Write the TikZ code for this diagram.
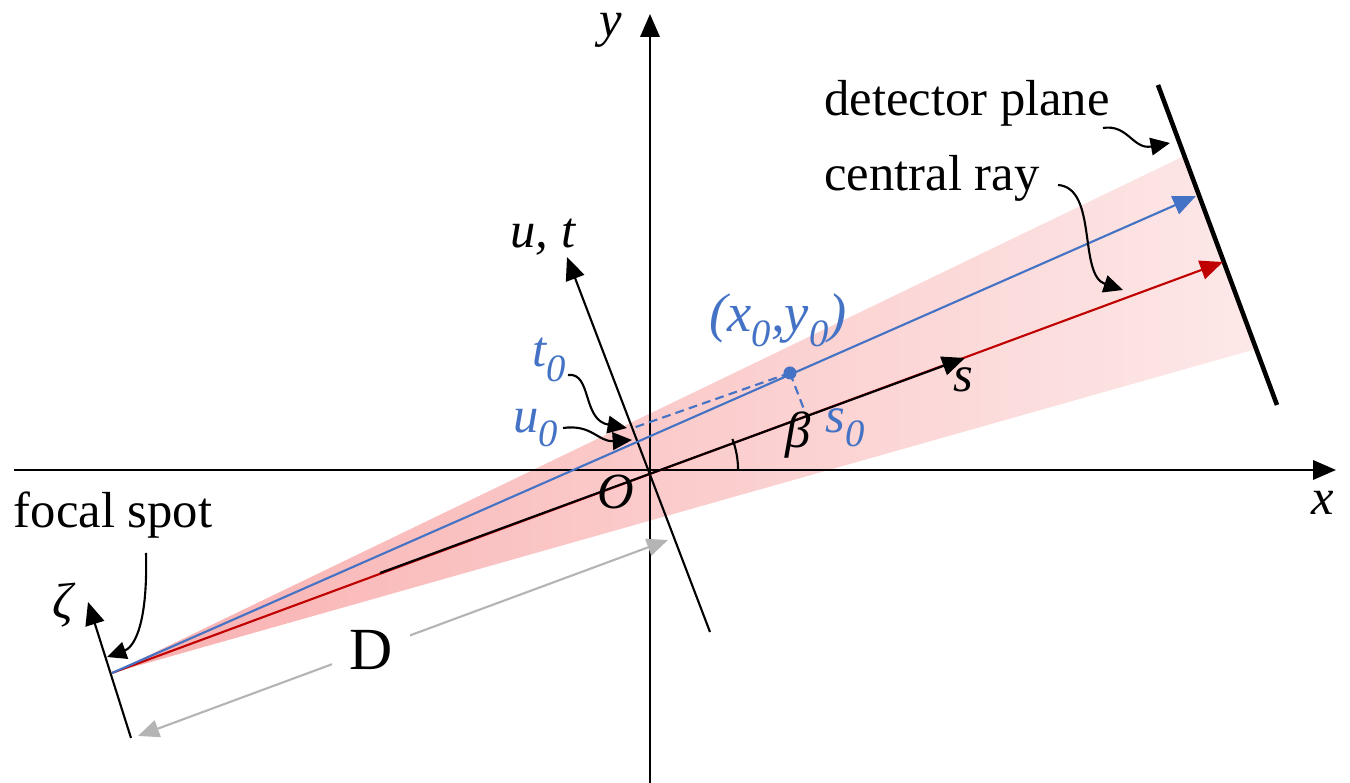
\documentclass[tikz,border=0pt]{standalone}
\usepackage{fontspec}
\setmainfont{Liberation Serif}
\usetikzlibrary{arrows.meta}
\definecolor{rayblue}{HTML}{4472C4}
\definecolor{rayred}{HTML}{C00000}
\definecolor{fanpink}{HTML}{F9B0B0}
\definecolor{fanlight}{HTML}{FDE8E8}
\definecolor{dgray}{HTML}{B4B4B4}
\newcommand\sbz[1]{\raisebox{-0.28em}{\fontsize{11}{12}\selectfont #1}}
\begin{document}
\begin{tikzpicture}[x=0.01cm,y=-0.01cm,
  bigtip/.style={-{Triangle[length=6.5pt,width=5.5pt]}},
  axisline/.style={line width=0.6pt, bigtip},
  ray/.style={line width=0.6pt, -{Triangle[length=6.5pt,width=5.5pt]}},
  callout/.style={line width=0.6pt, -{Triangle[length=5.5pt,width=5pt]}},
  lbl/.style={font=\fontsize{14.4}{16}\selectfont, inner sep=1pt},
  ilbl/.style={lbl, font=\fontsize{14.4}{16}\selectfont\itshape},
  blbl/.style={ilbl, text=rayblue}]
\useasboundingbox (0,0) rectangle (1350,783);
% coordinates
\coordinate (O) at (650,470);
\coordinate (F) at (112,673);
\coordinate (FU) at (1184,156);
\coordinate (FL) at (1256,349);
\coordinate (xL) at (14,470);
\coordinate (xR) at (1336,470);
\coordinate (yB) at (650,783);
\coordinate (yT) at (650,14);
\coordinate (uB) at (710,632);
\coordinate (uT) at (567,257);
\coordinate (zB) at (131,738);
\coordinate (zT) at (88,602);
\coordinate (dT) at (1158,85);
\coordinate (dB) at (1277,405);
\coordinate (blueTip) at (1196,196);
\coordinate (redTip) at (1223,262);
\coordinate (sStart) at (380,573);
\coordinate (sTip) at (965,358);
\coordinate (P) at (790,373);
\coordinate (Pu) at (633,428);
\coordinate (Ps) at (805,412);
\coordinate (Da) at (138,736);
\coordinate (Db) at (668,540);
% fan
\shade[left color=fanpink, right color=fanlight] (F) -- (FU) -- (FL) -- cycle;
% axes
\draw[axisline] (xL) -- (xR);
\draw[axisline] (yB) -- (yT);
\draw[axisline] (uB) -- (uT);
\draw[axisline] (zB) -- (zT);
% detector
\draw[line width=1.3pt] (dT) -- (dB);
% rays
\draw[rayred, ray] (F) -- (redTip);
\draw[rayblue, ray] (F) -- (blueTip);
\draw[axisline] (sStart) -- (sTip);
% dashed projections
\draw[rayblue, line width=0.6pt, dash pattern=on 2.5pt off 1.5pt] (P) -- (Pu);
\draw[rayblue, line width=0.6pt, dash pattern=on 2.5pt off 1.5pt] (P) -- (Ps);
\fill[rayblue] (P) circle[radius=0.065cm];
% beta arc
\draw[line width=0.6pt] ([xshift=0.88cm]O) arc[start angle=0, end angle=20.6, radius=0.88cm];
% distance D
\draw[dgray, line width=0.6pt, {Triangle[length=6pt,width=5pt]}-{Triangle[length=6pt,width=5pt]}] (Da) -- node[pos=0.44, fill=white, text=black, inner sep=0pt, minimum width=0.78cm, minimum height=0.3cm, font=\fontsize{17}{18}\selectfont] (Dl) {D} (Db);
% labels
\node[ilbl] (ylab) at (611,30) {y};
\node[ilbl] (xlab) at (1323,503) {x};
\node[ilbl] (Olab) at (616,492) {O};
\node[ilbl] (utlab) at (543,237) {u, t};
\node[ilbl] (slab) at (963,380) {s};
\node[ilbl] (betalab) at (798,435) {β};
\node[ilbl] (zetalab) at (63,605) {ζ};
\node[blbl] (s0lab) at (845,428) {s\sbz{0}};
\node[blbl, font=\fontsize{15.5}{17}\selectfont\itshape] (ptlab) at (778,320) {(x\sbz{0},y\sbz{0})};
\node[blbl] (t0lab) at (549,360) {t\sbz{0}};
\node[blbl] (u0lab) at (536,428) {u\sbz{0}};
\node[lbl] (focal) at (113,515) {focal spot};
\node[lbl] (detlab) at (967,103) {detector plane};
\node[lbl] (crlab) at (932,178) {central ray};
% callout arrows
\coordinate (fsA) at (146,553);
\coordinate (fsB) at (107,657);
\draw[callout] (fsA) .. controls (148,630) and (132,648) .. (fsB);
\coordinate (dpA) at (1103,128);
\coordinate (dpB) at (1170,143);
\draw[callout] (dpA) .. controls (1128,124) and (1133,150) .. (dpB);
\coordinate (crA) at (1058,185);
\coordinate (crB) at (1123,290);
\draw[callout] (crA) .. controls (1098,188) and (1078,275) .. (crB);
\coordinate (t0A) at (568,375);
\coordinate (t0B) at (627,428);
\draw[callout] (t0A) .. controls (592,372) and (582,420) .. (t0B);
\coordinate (u0A) at (563,428);
\coordinate (u0B) at (632,440);
\draw[callout] (u0A) .. controls (592,424) and (598,442) .. (u0B);
\end{tikzpicture}
\end{document}
